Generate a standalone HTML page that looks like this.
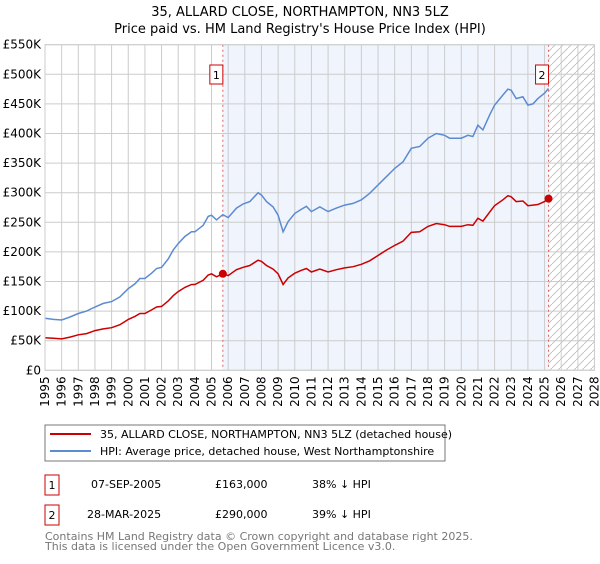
<!DOCTYPE html>
<html><head><meta charset="utf-8"><style>
body{margin:0;background:#fff;font-family:"DejaVu Sans","Liberation Sans",sans-serif;}
svg text{font-family:"DejaVu Sans","Liberation Sans",sans-serif;}
</style></head><body>
<svg id="c" width="600" height="560" viewBox="0 0 600 560" xmlns="http://www.w3.org/2000/svg">
<defs><pattern id="hatch" patternUnits="userSpaceOnUse" width="8" height="8"><path d="M-2,10 L10,-2" stroke="#bbb" stroke-width="0.8"/></pattern></defs>
<text x="300" y="16" text-anchor="middle" font-size="13" fill="#000">35, ALLARD CLOSE, NORTHAMPTON, NN3 5LZ</text>
<text x="300" y="33" text-anchor="middle" font-size="13" fill="#000">Price paid vs. HM Land Registry's House Price Index (HPI)</text>
<g id="plot"></g>
<g>
<rect x="45" y="425" width="400" height="36" fill="#fff" stroke="#777"/>
<line x1="50" y1="434" x2="91" y2="434" stroke="#cc0000" stroke-width="2"/>
<text x="100" y="438" font-size="11">35, ALLARD CLOSE, NORTHAMPTON, NN3 5LZ (detached house)</text>
<line x1="50" y1="451" x2="91" y2="451" stroke="#5b8bd0" stroke-width="2"/>
<text x="100" y="455" font-size="11">HPI: Average price, detached house, West Northamptonshire</text>
</g>
<g font-size="11">
<rect x="45" y="475" width="14" height="20" fill="#fff" stroke="#cc0000"/><text x="52" y="489" text-anchor="middle">1</text>
<text x="91" y="488">07-SEP-2005</text><text x="215" y="488">£163,000</text><text x="312" y="488">38% ↓ HPI</text>
<rect x="45" y="505" width="14" height="20" fill="#fff" stroke="#cc0000"/><text x="52" y="519" text-anchor="middle">2</text>
<text x="87" y="518">28-MAR-2025</text><text x="215" y="518">£290,000</text><text x="312" y="518">39% ↓ HPI</text>
</g>
<text x="45" y="540" font-size="11" fill="#777">Contains HM Land Registry data © Crown copyright and database right 2025.</text>
<text x="45" y="550" font-size="11" fill="#777">This data is licensed under the Open Government Licence v3.0.</text>
</svg>
<script>
const hpiYears=[1995,1995.5,1996,1996.5,1997,1997.5,1998,1998.5,1999,1999.5,2000,2000.4,2000.7,2001,2001.4,2001.7,2002,2002.4,2002.7,2003,2003.4,2003.8,2004,2004.5,2004.8,2005,2005.3,2005.68,2006,2006.5,2006.9,2007.3,2007.8,2008,2008.3,2008.7,2009,2009.3,2009.6,2010,2010.4,2010.7,2011,2011.5,2012,2012.5,2013,2013.5,2014,2014.5,2015,2015.5,2016,2016.5,2017,2017.5,2018,2018.5,2019,2019.3,2020,2020.4,2020.7,2021,2021.3,2021.7,2022,2022.5,2022.8,2023,2023.3,2023.7,2024,2024.3,2024.6,2025,2025.24];
const hpiValues=[88,86,85,90,96,100,107,113,116,124,138,146,155,155,164,172,174,188,203,214,226,234,234,245,260,262,254,263,258,274,281,285,300,296,285,276,262,234,251,265,272,277,268,276,268,274,279,282,288,299,313,327,341,352,375,378,392,400,397,392,392,397,395,414,406,431,448,465,475,473,459,462,448,450,459,468,476];
const propValues=[55,54,53,56,60,62,67,70,72,77,86,91,96,96,102,107,108,117,126,133,140,145,145,152,161,163,158,163,160,170,174,177,186,184,177,171,163,145,156,164,169,172,166,171,166,170,173,175,179,185,194,203,211,218,233,234,243,248,246,243,243,246,245,257,252,267,278,288,295,293,285,286,278,279,280,285,290];
const sales=[[2005.68,163],[2025.24,290]];
const xTicks=[];for(let y=1995;y<=2028;y++)xTicks.push(y);
const yTicks=[0,50,100,150,200,250,300,350,400,450,500,550];
const X0=45,X1=594.5,Y0=370.3,Y1=44.7;
const xs=v=>X0+(v-1995)/(2028-1995)*(X1-X0);
const ys=v=>Y0-v/550*(Y0-Y1);
const NS="http://www.w3.org/2000/svg";
const g=document.getElementById('plot');
function mk(t,a){const e=document.createElementNS(NS,t);for(const k in a)e.setAttribute(k,a[k]);g.appendChild(e);return e;}
let e;
e=mk('rect',{x:xs(sales[0][0]),y:Y1,width:xs(sales[1][0])-xs(sales[0][0]),height:Y0-Y1,fill:'#f0f4fd'});


e=mk('rect',{x:xs(sales[1][0]),y:Y1,width:X1-xs(sales[1][0]),height:Y0-Y1,fill:'url(#hatch)'});


xTicks.forEach(t=>{
 e=mk('line',{x1:xs(t),x2:xs(t),y1:Y1,y2:Y0,stroke:'#ccc','stroke-width':1});
 
 
 e=mk('text',{x:0,y:0,'font-size':12,'text-anchor':'end',transform:`translate(${xs(t)+4},${Y0+6}) rotate(-90)`});
 e.textContent=t;
 
 
});
yTicks.forEach(t=>{
 e=mk('line',{x1:X0,x2:X1,y1:ys(t),y2:ys(t),stroke:'#ccc','stroke-width':1});
 
 
 e=mk('text',{x:X0-4,y:ys(t)+4,'font-size':12,'text-anchor':'end'});
 e.textContent=t===0?'£0':'£'+t+'K';
 
 
});
sales.forEach((s,i)=>{
 e=mk('line',{x1:xs(s[0]),x2:xs(s[0]),y1:Y1,y2:Y0,stroke:'#e06060','stroke-width':1,'stroke-dasharray':'2,3'});
 
 
});
function path(vals,col,name){
 let d=hpiYears.map((y,i)=>(i?'L':'M')+xs(y).toFixed(1)+','+ys(vals[i]).toFixed(1)).join(' ');
 e=mk('path',{d:d,fill:'none',stroke:col,'stroke-width':1.5});
 
 
}
path(hpiValues,'#5b8bd0','hpi-line');
path(propValues,'#cc0000','property-line');
sales.forEach((s,i)=>{
 e=mk('circle',{cx:xs(s[0]),cy:ys(s[1]),r:4,fill:'#cc0000'});
 
 
 e=mk('rect',{x:xs(s[0])-13,y:65,width:13,height:19,fill:'#fff',stroke:'#cc0000'});
 
 
 e=mk('text',{x:xs(s[0])-6.5,y:79,'font-size':11,'text-anchor':'middle'});
 e.textContent=String(i+1);
 
 
});
e=mk('rect',{x:X0,y:Y1,width:X1-X0,height:Y0-Y1,fill:'none',stroke:'#ccc'});


</script>
</body></html>
